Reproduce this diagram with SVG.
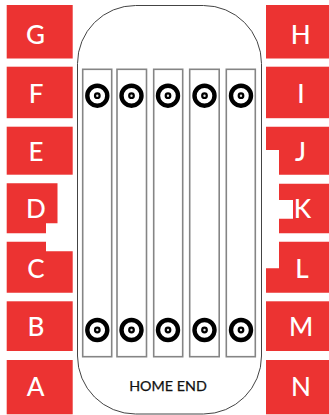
<svg xmlns="http://www.w3.org/2000/svg" width="329" height="415" viewBox="0 0 329 415">
<style>
.s{fill:#ec3332}
.t{fill:#fff;font-family:Lato,"Open Sans",sans-serif;font-size:26px;font-weight:500;text-anchor:middle}
.b{fill:none;stroke:#858585;stroke-width:1.6}
.c{fill:#fff;stroke:#000;stroke-width:4.4}
.d{fill:#ddd;stroke:#000;stroke-width:2.2}
</style>
<rect width="329" height="415" fill="#fff"/>
<g id="stage">
<rect x="77.500" y="5.500" width="184" height="408.500" rx="58" ry="58" fill="#fff" stroke="#444" stroke-width="1"/>
<text x="168" y="391" font-family="Lato,'Open Sans',sans-serif" font-size="14.300" fill="#111" stroke="#111" stroke-width="0.250" text-anchor="middle">HOME END</text>
</g>
<g id="seats-connectors">
<rect class="b" x="82.700" y="69.300" width="29" height="287.400"/>
<rect class="b" x="117" y="69.300" width="29.500" height="287.400"/>
<rect class="b" x="153.700" y="69.300" width="29" height="287.400"/>
<rect class="b" x="189.700" y="69.300" width="29.500" height="287.400"/>
<rect class="b" x="226.300" y="69.300" width="29" height="287.400"/>
</g>
<g id="targets">
<g id="t1"><circle class="c" cx="97.300" cy="95.700" r="10"/><circle class="d" cx="97.300" cy="95.700" r="2.300"/><circle class="c" cx="97.300" cy="330" r="10"/><circle class="d" cx="97.300" cy="330" r="2.300"/></g>
<g id="t2"><circle class="c" cx="131.500" cy="95.700" r="10"/><circle class="d" cx="131.500" cy="95.700" r="2.300"/><circle class="c" cx="131.500" cy="330" r="10"/><circle class="d" cx="131.500" cy="330" r="2.300"/></g>
<g id="t3"><circle class="c" cx="168" cy="95.700" r="10"/><circle class="d" cx="168" cy="95.700" r="2.300"/><circle class="c" cx="168" cy="330" r="10"/><circle class="d" cx="168" cy="330" r="2.300"/></g>
<g id="t4"><circle class="c" cx="204.500" cy="95.700" r="10"/><circle class="d" cx="204.500" cy="95.700" r="2.300"/><circle class="c" cx="204.500" cy="330" r="10"/><circle class="d" cx="204.500" cy="330" r="2.300"/></g>
<g id="t5"><circle class="c" cx="241" cy="95.700" r="10"/><circle class="d" cx="241" cy="95.700" r="2.300"/><circle class="c" cx="241" cy="330" r="10"/><circle class="d" cx="241" cy="330" r="2.300"/></g>
</g>
<g id="G"><rect class="s" x="6.700" y="5" width="66" height="53.500"/><text class="t" x="35.500" y="43.500">G</text></g>
<g id="F"><rect class="s" x="6.700" y="66.700" width="66" height="51.500"/><text class="t" x="36" y="103">F</text></g>
<g id="E"><rect class="s" x="6.700" y="126.700" width="66" height="48"/><text class="t" x="36" y="160.500">E</text></g>
<g id="D"><path class="s" d="M6.700 183.300H57.500V223.300H46V233.300H6.700Z"/><text class="t" x="36" y="218">D</text></g>
<g id="C"><path class="s" d="M6.700 241.700H46V251.300H72.700V292.700H6.700Z"/><text class="t" x="36" y="277.700">C</text></g>
<g id="B"><rect class="s" x="6.700" y="301.300" width="66" height="49.700"/><text class="t" x="36" y="336">B</text></g>
<g id="A"><rect class="s" x="6.700" y="360" width="66" height="54.300"/><text class="t" x="35.500" y="395.700">A</text></g>
<g id="H"><rect class="s" x="266" y="5" width="63" height="53.500"/><text class="t" x="300.700" y="43.500">H</text></g>
<g id="I"><rect class="s" x="266" y="66.700" width="63" height="51.500"/><text class="t" x="301" y="103">I</text></g>
<g id="J"><path class="s" d="M266 126.700H329V174.700H279V150H266Z"/><text class="t" x="300.500" y="160.500">J</text></g>
<g id="K"><path class="s" d="M279 183.700H329V233.300H279V218.700H293V200H279Z"/><text class="t" x="302.500" y="218">K</text></g>
<g id="L"><path class="s" d="M279 241.700H329V292.700H266V268.300H279Z"/><text class="t" x="302" y="277.700">L</text></g>
<g id="M"><rect class="s" x="266" y="301.300" width="63" height="49.700"/><text class="t" x="301" y="336">M</text></g>
<g id="N"><rect class="s" x="266" y="360" width="63" height="54.300"/><text class="t" x="301" y="395.700">N</text></g>
</svg>
